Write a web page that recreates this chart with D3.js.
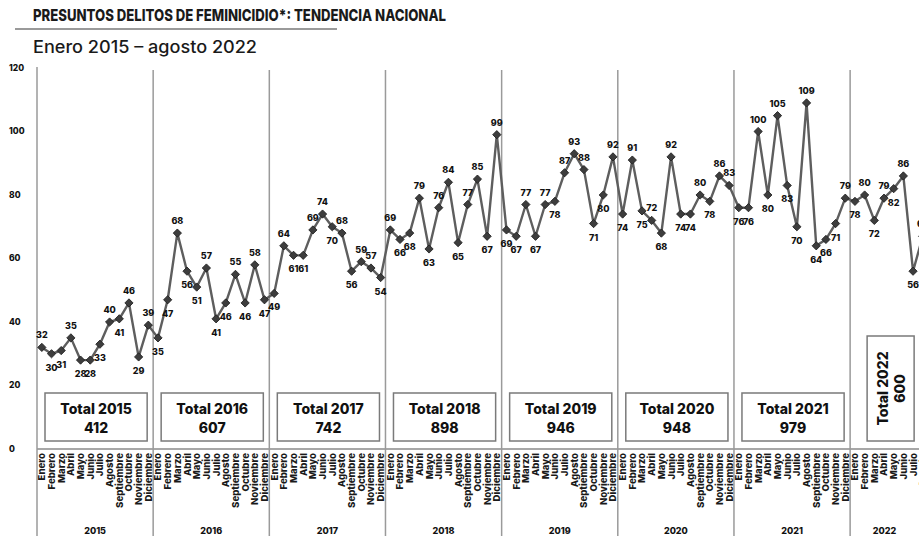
<!DOCTYPE html>
<html><head><meta charset="utf-8">
<script src="https://cdn.jsdelivr.net/npm/d3@7"></script>
<style>
html,body{margin:0;padding:0;background:#fff;}
svg{display:block;font-family:Inter,"Open Sans",sans-serif;}
</style></head>
<body>
<svg id="c" width="919" height="539"></svg>
<script>
const title = "PRESUNTOS DELITOS DE FEMINICIDIO*: TENDENCIA NACIONAL";
const subtitle = "Enero 2015 – agosto 2022";
const months = ["Enero","Febrero","Marzo","Abril","Mayo","Junio","Julio","Agosto","Septiembre","Octubre","Noviembre","Diciembre"];
const years = [2015,2016,2017,2018,2019,2020,2021,2022];
const v2015 = [32,30,31,35,28,28,33,40,41,46,29,39];
const v2016 = [35,47,68,56,51,57,41,46,55,46,58,47];
const v2017 = [49,64,61,61,69,74,70,68,56,59,57,54];
const v2018 = [69,66,68,79,63,76,84,65,77,85,67,99];
const v2019 = [69,67,77,67,77,78,87,93,88,71,80,92];
const v2020 = [74,91,75,72,68,92,74,74,80,78,86,83];
const v2021 = [76,76,100,80,105,83,70,109,64,66,71,79];
const v2022 = [78,80,72,79,82,86,56,67];
const totals = [412,607,742,898,946,948,979,600];
const yTicks = [0,20,40,60,80,100,120];

const series = [v2015,v2016,v2017,v2018,v2019,v2020,v2021,v2022];
const data = [];
series.forEach((arr,k)=>arr.forEach((v,m)=>data.push({year:years[k],month:m,name:months[m],value:v,key:years[k]+"-"+m})));

const W = 919, H = 539;
const svg = d3.select("#c");
svg.append("rect").attr("width",W).attr("height",H).attr("fill","#fff");

const bw = 9.68;
const x = d3.scaleBand().domain(data.map(d=>d.key)).range([37,37+data.length*bw]).padding(0);
const cx = d => x(d.key)+x.bandwidth()/2;
const y = d3.scaleLinear().domain([0,120]).range([449,68]);

// title
svg.append("text").attr("x",33).attr("y",21).text(title)
  .attr("font-size",16).attr("font-weight",800).attr("fill","#1a1a1a")
  .attr("textLength",413).attr("lengthAdjust","spacingAndGlyphs");
svg.append("line").attr("x1",15).attr("x2",337).attr("y1",29).attr("y2",29)
  .attr("stroke","#9a9a9a").attr("stroke-width",1.8);
svg.append("text").attr("x",33).attr("y",53).text(subtitle)
  .attr("font-size",17).attr("font-weight",500).attr("fill","#1a1a1a")
  .attr("textLength",224).attr("lengthAdjust","spacingAndGlyphs");

// y tick labels
svg.append("g").selectAll("text").data(yTicks).join("text")
  .attr("x",9).attr("y",d=>y(d)).attr("dy","0.35em")
  .attr("font-size",8.5).attr("font-weight",800).attr("fill","#111")
  .text(d=>d);

// zero line
svg.append("line").attr("x1",37).attr("x2",W).attr("y1",y(0)).attr("y2",y(0))
  .attr("stroke","#8a8a8a").attr("stroke-width",1.3);

// year dividers
const yearStart = yr => x(yr+"-0");
svg.append("g").selectAll("line").data(years).join("line")
  .attr("x1",d=>yearStart(d)).attr("x2",d=>yearStart(d))
  .attr("y1",(d,i)=>i===0?67:70).attr("y2",536)
  .attr("stroke","#9a9a9a").attr("stroke-width",1.5);

// total boxes
const boxes = svg.append("g");
years.forEach((yr,k)=>{
  const x0 = yearStart(yr);
  if (yr < 2022) {
    boxes.append("rect").attr("x",x0+8).attr("y",393).attr("width",12*bw-14).attr("height",48)
      .attr("fill","#fff").attr("stroke","#7a7a7a").attr("stroke-width",1.5);
    const c = x0+8+(12*bw-14)/2;
    boxes.append("text").attr("x",c).attr("y",414).attr("text-anchor","middle")
      .attr("font-size",14).attr("font-weight",800).attr("fill","#111").text("Total "+yr);
    boxes.append("text").attr("x",c).attr("y",433).attr("text-anchor","middle")
      .attr("font-size",14).attr("font-weight",800).attr("fill","#111").text(totals[k]);
  } else {
    boxes.append("rect").attr("x",x0+17).attr("y",336).attr("width",47).attr("height",105)
      .attr("fill","#fff").attr("stroke","#7a7a7a").attr("stroke-width",1.5);
    const cyb = 388.5;
    boxes.append("text").attr("transform",`translate(${x0+17+16},${cyb}) rotate(-90)`)
      .attr("text-anchor","middle").attr("dy","0.35em")
      .attr("font-size",14).attr("font-weight",800).attr("fill","#111").text("Total "+yr);
    boxes.append("text").attr("transform",`translate(${x0+17+33},${cyb}) rotate(-90)`)
      .attr("text-anchor","middle").attr("dy","0.35em")
      .attr("font-size",14).attr("font-weight",800).attr("fill","#111").text(totals[k]);
  }
});

// month labels
svg.append("g").selectAll("text").data(data).join("text")
  .attr("transform",d=>`translate(${cx(d)},453) rotate(-90)`)
  .attr("text-anchor","end").attr("dy","0.36em")
  .attr("font-size",9.6).attr("font-weight",800).attr("fill","#1a1a1a")
  .text(d=>d.name);

// year labels (centered within the visible part of each year)
svg.append("g").selectAll("text").data(years).join("text")
  .attr("x",d=>(yearStart(d)+Math.min(yearStart(d)+12*bw,W))/2).attr("y",534).attr("text-anchor","middle")
  .attr("font-size",9).attr("font-weight",800).attr("fill","#111").text(d=>d);

// line
svg.append("path").datum(data)
  .attr("d",d3.line().x(cx).y(d=>y(d.value)))
  .attr("fill","none").attr("stroke","#5e5e5e").attr("stroke-width",2.4).attr("stroke-linejoin","round");

// markers
const sym = d3.symbol(d3.symbolSquare,34);
svg.append("g").selectAll("path").data(data).join("path")
  .attr("d",sym).attr("transform",d=>`translate(${cx(d)},${y(d.value)}) rotate(45)`)
  .attr("fill","#3d3d3d").attr("stroke","#1e1e1e").attr("stroke-width",0.8);

// value labels
const above = (d,i) => {
  const prev = i>0?data[i-1].value:null, next = i<data.length-1?data[i+1].value:null;
  const ref = prev===null?next:(next===null?prev:(prev+next)/2);
  return d.value >= ref;
};
svg.append("g").selectAll("text").data(data).join("text")
  .attr("x",cx).attr("y",(d,i)=>above(d,i)?y(d.value)-9:y(d.value)+17)
  .attr("text-anchor","middle")
  .attr("font-size",9).attr("font-weight",800).attr("fill","#111")
  .text(d=>d.value);
</script>
</body></html>
